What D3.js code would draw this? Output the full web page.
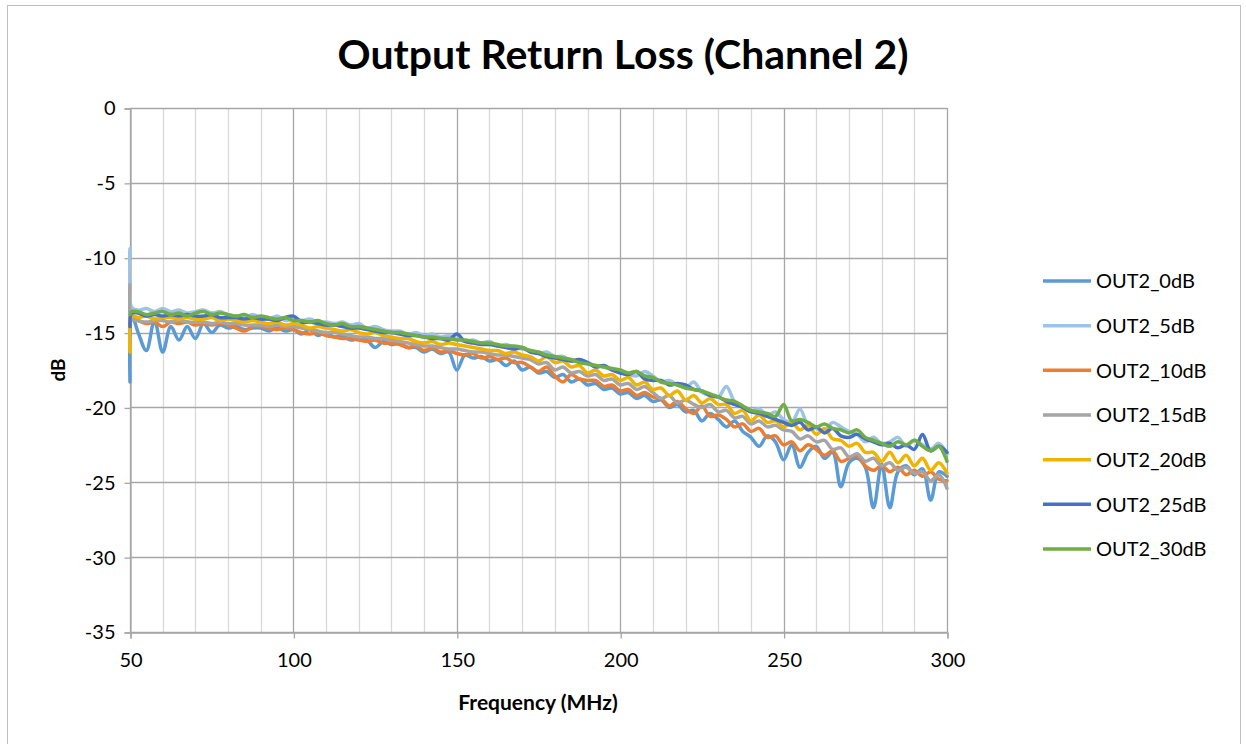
<!DOCTYPE html>
<html>
<head>
<meta charset="utf-8">
<script src="https://cdn.jsdelivr.net/npm/d3@7"></script>
<style>
  html, body { margin: 0; padding: 0; background: #fff; }
  svg { display: block; }
  text { font-family: Lato, "Open Sans", sans-serif; fill: #000; }
</style>
</head>
<body>
<svg id="chart" width="1246" height="744"></svg>
<script>
// ---------------- data ----------------
const title = "Output Return Loss (Channel 2)";
const xLabel = "Frequency (MHz)";
const yLabel = "dB";
const xTicks = [50, 100, 150, 200, 250, 300];
const xMinorTicks = [60, 70, 80, 90, 110, 120, 130, 140, 160, 170, 180, 190, 210, 220, 230, 240, 260, 270, 280, 290];
const yTicks = [0, -5, -10, -15, -20, -25, -30, -35];
const seriesNames = ["OUT2_0dB", "OUT2_5dB", "OUT2_10dB", "OUT2_15dB", "OUT2_20dB", "OUT2_25dB", "OUT2_30dB"];
const seriesColors = ["#5B9BD5", "#9DC3E6", "#ED7D31", "#A5A5A5", "#F0B400", "#4472C4", "#70AD47"];

// frequency points (MHz): 50, 50.5, then 52.5 .. 300 in 2.5 MHz steps
const freq = [50, 50.5].concat(d3.range(52.5, 300.01, 2.5));

const out0 = [-18.3, -13.8,
  -15.0, -16.2, -14.2, -16.3,  -14.6, -15.5, -14.6, -15.4,  -14.4, -15.0, -14.5, -14.7,
  -14.6, -14.8, -14.7, -14.7,  -14.9, -14.7, -14.9, -14.8,  -15.1, -14.8, -15.2, -15.0,
  -15.3, -15.2, -15.5, -15.4,  -15.5, -16.0, -15.6, -15.8,  -15.7, -16.0, -16.0, -16.3,
  -16.1, -16.4, -16.3, -17.5,  -16.5, -16.7, -16.6, -16.9,  -16.8, -17.2, -16.9, -17.5,
  -17.3, -17.7, -17.6, -18.0,  -17.8, -18.3, -18.1, -18.5,  -18.4, -18.8, -18.7, -19.1,
  -19.0, -19.4, -19.2, -19.6,  -19.5, -20.0, -19.8, -20.3,  -20.2, -20.9, -20.4, -20.8,
  -21.3, -20.9, -21.6, -22.0,  -22.6, -21.9, -22.3, -23.5,  -22.5, -24.0, -23.0, -22.6,
  -23.4, -23.0, -25.3, -23.7,  -23.4, -24.0, -26.7, -23.8,  -26.7, -24.3, -23.9, -24.5,
  -24.1, -26.2, -24.3, -24.6];
const out5 = [-9.4, -13.3,
  -13.5, -13.4, -13.6, -13.4,  -13.6, -13.5, -13.7, -13.6,  -13.5, -13.7, -13.6, -13.8,
  -13.9, -14.0, -13.8, -14.0,  -14.1, -13.9, -14.2, -14.1,  -14.2, -14.1, -14.3, -14.3,
  -14.4, -14.3, -14.5, -14.4,  -14.7, -14.6, -14.8, -14.9,  -14.9, -15.1, -15.0, -15.2,
  -15.1, -15.3, -15.2, -15.4,  -15.6, -15.5, -15.7, -15.6,  -15.9, -15.8, -16.0, -16.1,
  -16.2, -16.4, -16.3, -16.6,  -16.6, -16.9, -16.8, -17.0,  -17.2, -17.3, -17.5, -17.6,
  -17.8, -17.9, -17.6, -17.9,  -18.3, -18.2, -18.5, -18.7,  -18.3, -19.0, -19.2, -19.3,
  -18.6, -19.6, -19.9, -20.2,  -20.1, -20.5, -20.3, -20.8,  -21.0, -20.1, -21.2, -21.4,
  -21.6, -21.0, -21.3, -21.6,  -21.8, -22.3, -22.0, -22.4,  -22.3, -22.0, -22.6, -22.2,
  -22.5, -22.8, -22.4, -23.1];
const out10 = [-14.0, -14.1,
  -14.2, -14.4, -14.3, -14.6,  -14.3, -14.4, -14.3, -14.5,  -14.4, -14.5, -14.4, -14.5,
  -14.7, -14.9, -14.6, -14.6,  -14.7, -14.8, -14.7, -14.8,  -15.0, -15.1, -15.0, -15.2,
  -15.3, -15.4, -15.4, -15.5,  -15.6, -15.5, -15.7, -15.7,  -15.8, -16.0, -15.9, -16.2,
  -16.0, -16.3, -16.2, -16.4,  -16.5, -16.4, -16.7, -16.6,  -16.8, -16.7, -17.0, -17.0,
  -17.3, -17.6, -17.3, -17.9,  -18.3, -17.8, -18.1, -18.2,  -18.2, -18.6, -18.5, -18.9,
  -18.8, -19.2, -19.0, -19.3,  -19.4, -19.9, -19.6, -20.1,  -20.4, -19.9, -20.6, -20.5,
  -20.8, -21.3, -21.1, -21.6,  -21.4, -22.0, -21.9, -22.5,  -22.3, -22.9, -22.5, -22.8,
  -23.2, -22.9, -23.6, -23.4,  -23.2, -23.9, -24.2, -23.9,  -24.3, -24.0, -24.5, -24.2,
  -24.6, -24.3, -24.8, -24.9];
const out15 = [-11.8, -14.1,
  -14.2, -14.3, -14.2, -14.2,  -14.3, -14.2, -14.3, -14.3,  -14.3, -14.4, -14.3, -14.4,
  -14.4, -14.5, -14.5, -14.5,  -14.6, -14.5, -14.6, -14.6,  -14.7, -14.8, -14.9, -15.0,
  -15.0, -15.1, -15.2, -15.3,  -15.3, -15.4, -15.4, -15.5,  -15.6, -15.7, -15.8, -15.9,
  -15.9, -16.0, -16.1, -16.1,  -16.2, -16.3, -16.3, -16.4,  -16.5, -16.5, -16.6, -16.7,
  -16.8, -17.1, -17.0, -17.5,  -17.3, -17.7, -17.6, -17.9,  -17.8, -18.2, -18.1, -18.5,
  -18.4, -18.8, -18.6, -19.0,  -19.4, -19.2, -19.7, -19.5,  -19.8, -20.0, -19.8, -20.3,
  -20.2, -20.7, -20.6, -21.1,  -20.9, -21.3, -21.2, -21.5,  -21.6, -22.1, -21.9, -22.3,
  -22.2, -22.8, -22.7, -23.3,  -23.1, -23.6, -23.4, -23.9,  -23.7, -24.2, -24.0, -24.4,
  -24.3, -24.9, -24.5, -25.4];
const out20 = [-16.3, -13.9,
  -14.0, -13.9, -14.1, -14.0,  -14.0, -14.1, -14.0, -14.1,  -14.1, -14.0, -14.2, -14.1,
  -14.2, -14.3, -14.2, -14.3,  -14.4, -14.3, -14.5, -14.4,  -14.5, -14.7, -14.6, -14.7,
  -14.8, -14.9, -14.8, -15.0,  -15.1, -15.0, -15.2, -15.3,  -15.4, -15.4, -15.6, -15.7,
  -15.6, -15.8, -15.7, -15.8,  -15.9, -16.0, -16.1, -16.2,  -16.2, -16.4, -16.3, -16.5,
  -16.6, -16.9, -16.6, -17.0,  -16.9, -17.3, -17.2, -17.7,  -17.5, -17.9, -17.8, -18.2,
  -18.0, -18.5, -18.3, -18.8,  -18.7, -19.2, -18.9, -19.5,  -19.2, -19.7, -19.4, -19.8,
  -19.8, -20.4, -20.2, -20.9,  -20.5, -21.0, -20.9, -21.3,  -21.0, -21.5, -21.2, -21.8,
  -21.4, -22.1, -22.2, -22.6,  -22.4, -23.0, -23.0, -23.6,  -23.0, -23.7, -23.2, -23.9,
  -23.4, -24.2, -23.7, -24.4];
const out25 = [-14.6, -13.7,
  -13.7, -13.9, -13.8, -13.9,  -13.8, -13.9, -13.8, -13.9,  -13.9, -13.8, -14.0, -14.0,
  -14.0, -14.1, -14.0, -14.1,  -14.1, -14.2, -14.0, -13.9,  -14.3, -14.3, -14.4, -14.5,
  -14.5, -14.6, -14.7, -14.7,  -14.8, -14.9, -15.0, -15.0,  -15.1, -15.2, -15.2, -15.3,
  -15.4, -15.4, -15.5, -15.1,  -15.6, -15.7, -15.8, -15.8,  -15.9, -16.0, -16.1, -16.0,
  -16.3, -16.4, -16.6, -16.7,  -16.8, -16.9, -16.8, -17.0,  -17.3, -17.2, -17.5, -17.7,
  -17.8, -17.6, -18.1, -18.2,  -18.2, -18.5, -18.4, -18.5,  -18.8, -18.9, -19.2, -19.3,
  -19.6, -19.8, -20.0, -20.3,  -20.4, -20.6, -20.8, -21.0,  -21.2, -21.0, -21.5, -21.3,
  -21.7, -21.4, -21.9, -22.0,  -21.8, -22.1, -22.3, -22.5,  -22.4, -22.7, -22.5, -22.8,
  -21.8, -22.9, -22.6, -23.0];
const out30 = [-13.8, -13.6,
  -13.6, -13.8, -13.7, -13.6,  -13.8, -13.7, -13.9, -13.7,  -13.6, -13.8, -13.7, -13.8,
  -13.9, -13.8, -14.0, -13.9,  -14.0, -14.1, -14.0, -14.2,  -14.2, -14.3, -14.2, -14.4,
  -14.5, -14.4, -14.6, -14.6,  -14.7, -14.8, -14.9, -15.0,  -15.0, -15.1, -15.2, -15.3,
  -15.3, -15.4, -15.4, -15.5,  -15.5, -15.6, -15.7, -15.7,  -15.8, -15.9, -15.9, -16.0,
  -16.2, -16.3, -16.5, -16.6,  -16.7, -16.8, -17.0, -17.1,  -17.2, -17.3, -17.4, -17.5,
  -17.7, -17.6, -17.9, -18.0,  -18.3, -18.4, -18.5, -18.7,  -18.8, -18.9, -19.1, -19.3,
  -19.5, -19.6, -19.9, -20.2,  -20.3, -20.4, -20.6, -19.8,  -20.9, -20.8, -21.0, -21.3,
  -21.1, -21.4, -21.5, -21.7,  -21.5, -22.0, -22.2, -22.4,  -22.6, -22.3, -22.5, -22.2,
  -22.6, -22.9, -22.6, -23.6];

const seriesValues = [out0, out5, out10, out15, out20, out25, out30];

// ---------------- layout ----------------
const svg = d3.select("#chart");
const plot = { left: 130, right: 947, top: 108, bottom: 632 };

const x = d3.scaleLinear().domain([50, 300]).range([plot.left, plot.right]);
const y = d3.scaleLinear().domain([-35, 0]).range([plot.bottom, plot.top]);

// outer border
svg.append("rect")
  .attr("x", 7.5).attr("y", 5.5).attr("width", 1233).attr("height", 750)
  .attr("fill", "#fff").attr("stroke", "#bfbfbf").attr("stroke-width", 1);

// title
svg.append("text")
  .attr("x", 623).attr("y", 69)
  .attr("text-anchor", "middle")
  .attr("font-size", 41).attr("font-weight", "bold")
  .text(title);

// minor vertical gridlines
svg.append("g").selectAll("line").data(xMinorTicks).join("line")
  .attr("x1", d => Math.round(x(d)) + 0.5).attr("x2", d => Math.round(x(d)) + 0.5)
  .attr("y1", plot.top).attr("y2", plot.bottom)
  .attr("stroke", "#d9d9d9").attr("stroke-width", 1.3);

// major vertical gridlines
svg.append("g").selectAll("line").data(xTicks).join("line")
  .attr("x1", d => Math.round(x(d)) + 0.5).attr("x2", d => Math.round(x(d)) + 0.5)
  .attr("y1", plot.top).attr("y2", plot.bottom)
  .attr("stroke", "#a6a6a6").attr("stroke-width", 1.3);

// horizontal gridlines
svg.append("g").selectAll("line").data(yTicks).join("line")
  .attr("x1", plot.left).attr("x2", plot.right)
  .attr("y1", d => Math.round(y(d)) + 0.5).attr("y2", d => Math.round(y(d)) + 0.5)
  .attr("stroke", "#a6a6a6").attr("stroke-width", 1.3);

// axes
const fmt = d => String(d);
const yAxis = d3.axisLeft(y).tickValues(yTicks).tickSize(6).tickPadding(9).tickFormat(fmt);
const gy = svg.append("g").attr("transform", `translate(${plot.left + 0.5},0.5)`).call(yAxis);
gy.select(".domain").attr("stroke", "#a6a6a6").attr("stroke-width", 1.3);
gy.selectAll(".tick line").attr("stroke", "#a6a6a6").attr("stroke-width", 1.3);
gy.selectAll(".tick text").attr("font-size", 20).attr("font-family", "Lato, sans-serif").attr("fill", "#000");

const xAxis = d3.axisBottom(x).tickValues(xTicks).tickSize(6).tickPadding(14).tickFormat(fmt);
const gx = svg.append("g").attr("transform", `translate(0.5,${plot.bottom + 0.5})`).call(xAxis);
gx.select(".domain").attr("stroke", "#a6a6a6").attr("stroke-width", 1.3);
gx.selectAll(".tick line").attr("stroke", "#a6a6a6").attr("stroke-width", 1.3);
gx.selectAll(".tick text").attr("font-size", 20).attr("font-family", "Lato, sans-serif").attr("fill", "#000");

// axis titles
svg.append("text")
  .attr("x", 538).attr("y", 710)
  .attr("text-anchor", "middle")
  .attr("font-size", 21).attr("font-weight", "bold")
  .text(xLabel);
svg.append("text")
  .attr("transform", `translate(65,${(plot.top + plot.bottom) / 2}) rotate(-90)`)
  .attr("text-anchor", "middle")
  .attr("font-size", 19).attr("font-weight", "bold")
  .text(yLabel);

// series lines
const line = d3.line()
  .x((d, i) => x(freq[i]))
  .y(d => y(d))
  .curve(d3.curveCatmullRom.alpha(0.5));

svg.append("clipPath").attr("id", "clip")
  .append("rect").attr("x", plot.left - 2).attr("y", plot.top - 10)
  .attr("width", plot.right - plot.left + 4).attr("height", plot.bottom - plot.top + 10);

svg.append("g").attr("clip-path", "url(#clip)")
  .selectAll("path").data(seriesValues).join("path")
  .attr("d", d => line(d))
  .attr("fill", "none")
  .attr("stroke", (d, i) => seriesColors[i])
  .attr("stroke-width", 3.5)
  .attr("stroke-linejoin", "round")
  .attr("stroke-linecap", "round");

// legend
const legendY = d3.scalePoint().domain(seriesNames).range([281, 549]);
const lg = svg.append("g").selectAll("g").data(seriesNames).join("g")
  .attr("transform", d => `translate(0,${legendY(d)})`);
lg.append("line")
  .attr("x1", 1043).attr("x2", 1091).attr("y1", 0).attr("y2", 0)
  .attr("stroke", (d, i) => seriesColors[i]).attr("stroke-width", 3.5);
lg.append("text")
  .attr("x", 1096).attr("y", 0).attr("dy", "0.36em")
  .attr("font-size", 20)
  .text(d => d);
</script>
</body>
</html>
